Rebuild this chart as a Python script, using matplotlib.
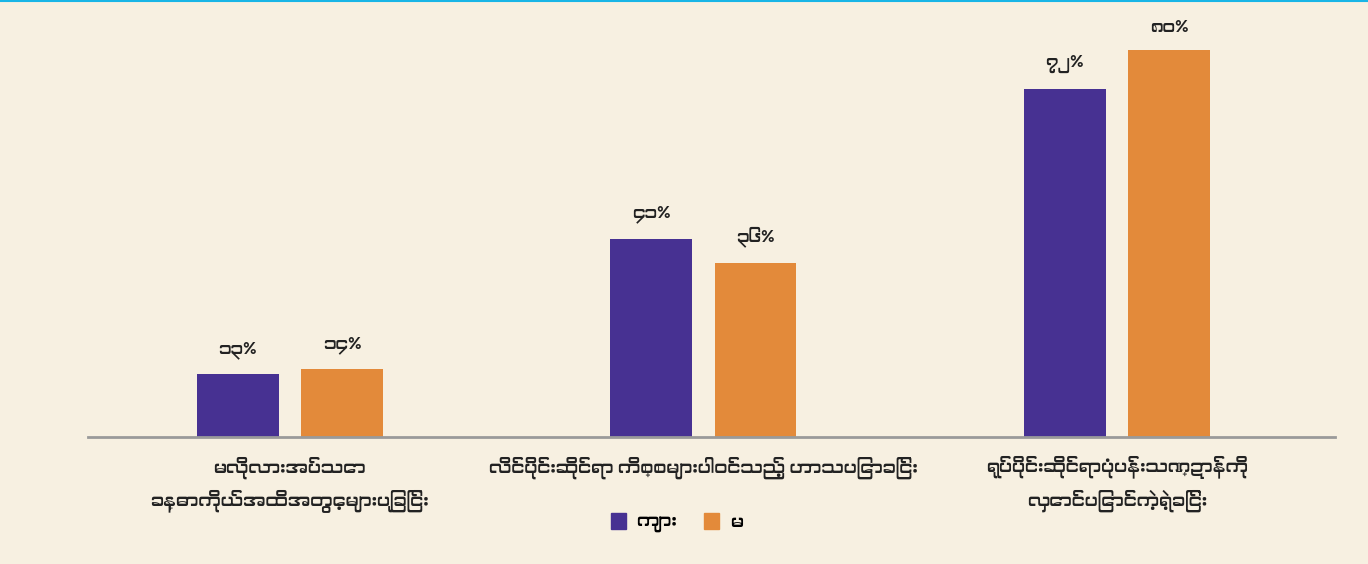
import matplotlib
matplotlib.use("Agg")
import matplotlib.pyplot as plt
from matplotlib import font_manager
from matplotlib.patches import Patch
import numpy as np

categories = [
    "မလိုလားအပ်သော\nခန္ဓာကိုယ်အထိအတွေ့များပြုခြင်း",
    "လိင်ပိုင်းဆိုင်ရာ ကိစ္စများပါဝင်သည့် ဟာသပြောခြင်း",
    "ရုပ်ပိုင်းဆိုင်ရာပုံပန်းသဏ္ဍာန်ကို\nလှောင်ပြောင်ကဲ့ရဲ့ခြင်း",
]
series_names = ["ကျား", "မ"]
male_values = [13, 41, 72]
female_values = [14, 36, 80]
male_labels = ["၁၃%", "၄၁%", "၇၂%"]
female_labels = ["၁၄%", "၃၆%", "၈၀%"]

# find any font with Myanmar support
names = sorted({f.name for f in font_manager.fontManager.ttflist})
mm = [n for n in names if "myanmar" in n.lower() or "padauk" in n.lower()]
families = mm + ["Noto Sans", "DejaVu Sans"]
plt.rcParams["font.family"] = families

bg = "#F7F0E1"
purple = "#473192"
orange = "#E38A3A"

fig = plt.figure(figsize=(13.68, 5.64), dpi=100, facecolor=bg)
ax = fig.add_axes([88/1368, (564-437)/564, (1335-88)/1368, 427/564])
ax.set_facecolor(bg)

x = np.arange(len(categories))
w = 0.198
off = 0.126
b1 = ax.bar(x - off, male_values, w, color=purple)
b2 = ax.bar(x + off, female_values, w, color=orange)
for rect, lab in zip(b1, male_labels):
    ax.annotate(lab, (rect.get_x() + rect.get_width()/2, rect.get_height()),
                xytext=(0, 11), textcoords="offset points", ha="center", va="bottom",
                fontsize=12.5, color="#222222")
for rect, lab in zip(b2, female_labels):
    ax.annotate(lab, (rect.get_x() + rect.get_width()/2, rect.get_height()),
                xytext=(0, 11), textcoords="offset points", ha="center", va="bottom",
                fontsize=12.5, color="#222222")

ax.set_xlim(-0.488, 2.527)
ax.set_ylim(0, 427/4.84)
ax.set_xticks(x)
ax.set_xticklabels(categories, fontsize=13, color="#222222", linespacing=1.65)
ax.tick_params(axis="x", length=0, pad=14)
ax.set_yticks([])
for s in ["top", "right", "left"]:
    ax.spines[s].set_visible(False)
ax.spines["bottom"].set_color("#9a9a9a")
ax.spines["bottom"].set_linewidth(2)

handles = [Patch(color=purple), Patch(color=orange)]
fig.legend(handles, series_names, loc="center", bbox_to_anchor=(677/1368, 1-523/564),
           ncol=2, frameon=False, fontsize=13, handlelength=0.8, handleheight=1.0,
           columnspacing=1.5, handletextpad=0.6)

fig.add_artist(plt.Line2D([0, 1], [0.999, 0.999], color="#19B5E6", lw=1.5))
fig.savefig("out.png", dpi=100, facecolor=bg)
